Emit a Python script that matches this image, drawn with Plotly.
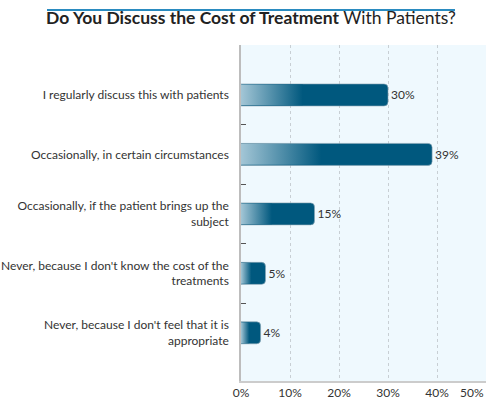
import plotly.graph_objects as go

labels = [
    "I regularly discuss this with patients",
    "Occasionally, in certain circumstances",
    "Occasionally, if the patient brings up the<br>subject",
    "Never, because I don't know the cost of the<br>treatments",
    "Never, because I don't feel that it is<br>appropriate",
]
values = [30, 39, 15, 5, 4]
x_ticks = [0, 10, 20, 30, 40, 50]

dark = "#00587e"
light = "#a3c6d6"
half = 0.185  # half bar thickness, category units

fig = go.Figure()

for i, v in enumerate(values):
    # solid bar with rounded end
    fig.add_trace(go.Bar(
        x=[v], y=[i], orientation="h", width=2 * half,
        marker=dict(color=dark, cornerradius=4,
                    line=dict(color="#8aa5b3", width=0.6)),
        text=[f"{v}%"], textposition="outside",
        textfont=dict(size=12, color="#333333"),
        cliponaxis=False, hoverinfo="skip", showlegend=False,
    ))
    # gradient overlay on the left part of the bar
    g = v * 0.42
    fig.add_trace(go.Scatter(
        x=[0, g, g, 0, 0],
        y=[i - half + 0.01, i - half + 0.01, i + half - 0.01, i + half - 0.01, i - half + 0.01],
        fill="toself", mode="lines", line=dict(width=0),
        fillgradient=dict(type="horizontal", colorscale=[[0, light], [1, dark]]),
        hoverinfo="skip", showlegend=False,
    ))

# last x tick label is pulled inside the plot like the original
tick_text = [f"{t}%" for t in x_ticks]
last_label = tick_text[-1]
tick_text[-1] = ""

fig.update_layout(
    width=500, height=405,
    margin=dict(l=241, r=14, t=45, b=24, autoexpand=False),
    paper_bgcolor="white",
    plot_bgcolor="#eff9fe",
    font=dict(family="Lato, Open Sans, sans-serif", size=12, color="#333333"),
    title=dict(
        text="<b>Do You Discuss the Cost of Treatment</b> With Patients?",
        x=0.502, xanchor="center", y=0.955, yanchor="middle",
        font=dict(size=17.5, color="#222222"),
    ),
    barmode="overlay",
    xaxis=dict(
        range=[0, 50], tickvals=x_ticks, ticktext=tick_text,
        showgrid=True, gridcolor="#c8cfd4", griddash="dot", gridwidth=1,
        showline=True, linecolor="#cccccc", linewidth=1.5,
        zeroline=False, ticks="", tickfont=dict(size=12, color="#333333"),
        automargin=False, fixedrange=True,
    ),
    yaxis=dict(
        range=[4.81, -0.84], tickvals=list(range(len(labels))), ticktext=labels,
        showgrid=False, zeroline=False,
        showline=True, linecolor="#bdbdbd", linewidth=1.5,
        ticks="", ticklabelstandoff=8,
        minor=dict(tickvals=[0.5, 1.5, 2.5, 3.5], ticks="inside", ticklen=5,
                   tickcolor="#555555", tickwidth=1),
        tickfont=dict(size=12, color="#333333"),
        automargin=False, fixedrange=True,
    ),
    annotations=[dict(
        x=x_ticks[-1], xref="x", y=0, yref="paper", yanchor="top", xanchor="right",
        yshift=-2, text=last_label, showarrow=False,
        font=dict(size=12, color="#333333"),
    )],
    shapes=[dict(
        type="line", xref="paper", yref="paper",
        x0=(47 - 241) / 245, x1=(455 - 241) / 245,
        y0=(381 - 10) / 336, y1=(381 - 10) / 336,
        line=dict(color="#2a8bc0", width=2),
    )],
)

fig.write_html("out.html", config={"displayModeBar": False},
               post_script="document.body.style.margin='0';")
